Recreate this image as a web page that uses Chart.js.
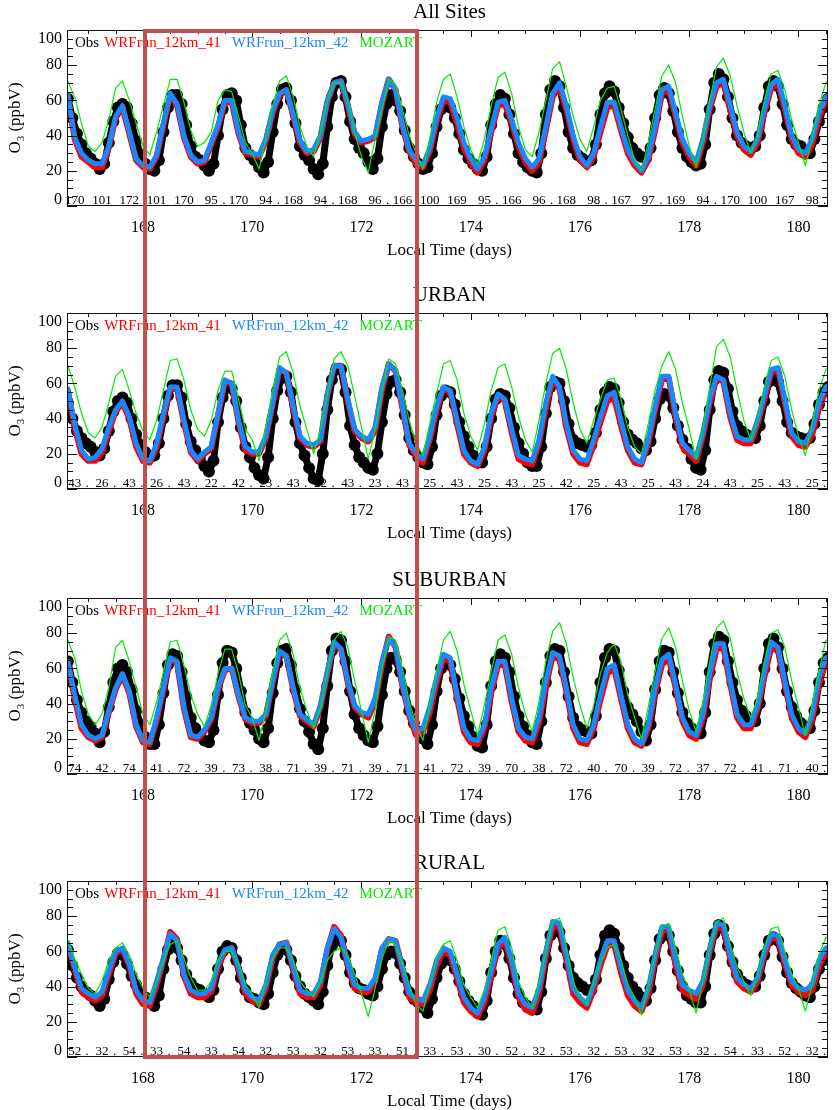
<!DOCTYPE html>
<html><head><meta charset="utf-8">
<script src="https://cdn.jsdelivr.net/npm/chart.js@4.4.1/dist/chart.umd.min.js"></script>
<style>
html,body{margin:0;padding:0;background:#fff;width:836px;height:1110px;overflow:hidden;position:relative;}
canvas.pan{position:absolute;left:0;}
#box{position:absolute;left:143px;top:29px;width:276px;height:1030px;border:4px solid #C0504D;box-sizing:border-box;pointer-events:none;z-index:5;}
</style></head><body>
<canvas id="c0" class="pan" width="836" height="283" style="top:0px"></canvas>
<canvas id="c1" class="pan" width="836" height="283" style="top:283px"></canvas>
<canvas id="c2" class="pan" width="836" height="283" style="top:568px"></canvas>
<canvas id="c3" class="pan" width="836" height="259" style="top:851px"></canvas>
<div id="box"></div>
<script>
// ---------------- labels / ticks ----------------
const panelTitles = ['All Sites', 'URBAN', 'SUBURBAN', 'RURAL'];
const legendLabels = ['Obs', 'WRFrun_12km_41', 'WRFrun_12km_42', 'MOZART'];
const xTickValues = [168, 170, 172, 174, 176, 178, 180];
const yTickValues = [0, 20, 40, 60, 80, 100];
const xAxisTitle = 'Local Time (days)';
// time grids (days): models every 3 h, obs every 2 h, counts every 12 h
const modelStart = 166.625, modelStep = 0.125;
const obsStart = 166.625, obsStep = 1 / 12;
const countStart = 166.75, countStep = 0.5;

// ---------------- All Sites ----------------
const allObs = [61,50,41,35,30,
 27,24,21,24,36,48,56,58,56,47,37,29,
 24,21,20,26,42,56,63,63,58,46,34,28,
 26,23,20,24,40,55,63,64,60,46,33,29,
 26,22,19,25,42,58,66,67,60,47,34,29,
 26,21,18,24,45,62,70,71,62,48,38,33,
 30,25,21,27,45,58,63,60,54,43,33,28,
 24,21,22,30,45,55,58,56,50,41,32,27,
 24,21,20,28,46,58,63,61,52,41,30,25,
 22,20,19,30,52,66,71,68,56,42,33,29,
 27,25,26,35,52,64,68,65,56,47,39,33,
 30,28,27,33,50,63,67,64,54,42,33,28,
 25,23,24,35,55,70,75,72,62,50,40,36,
 34,33,34,40,56,68,71,68,58,46,38,35,
 34,30,30,38,48,56,61];
const allWrf41 = [62,38,28,
 25,22,22,33,50,56,41,26,
 22,21,28,46,63,57,39,28,
 24,25,35,45,59,59,41,30,
 29,28,37,53,63,66,51,36,
 30,31,39,59,70,71,57,41,
 36,37,39,58,72,66,45,31,
 24,22,31,48,60,59,47,33,
 25,19,26,42,57,58,47,34,
 25,20,25,43,62,68,55,38,
 26,22,28,42,56,57,43,30,
 23,19,26,43,64,66,51,36,
 28,23,36,55,68,70,55,40,
 32,29,36,53,67,70,55,38,
 30,28,35,50,60,62];
const allWrf42 = [63,39,30,
 26,24,24,34,51,57,42,27,
 23,22,29,47,64,58,40,29,
 25,26,36,46,60,60,42,31,
 30,29,38,54,64,66,52,37,
 31,32,40,60,70,71,58,42,
 37,38,40,59,72,66,46,32,
 26,23,33,50,62,61,50,36,
 27,21,28,44,59,60,49,36,
 27,22,27,45,64,70,57,40,
 28,23,30,45,59,59,45,32,
 25,20,28,45,66,68,53,38,
 30,25,38,57,70,72,57,42,
 34,31,38,55,69,72,57,40,
 32,30,38,53,62,63];
const allMozart = [71,62,47,
 34,31,36,49,67,71,60,47,
 34,29,42,57,72,72,59,43,
 34,36,42,60,66,65,51,36,
 30,21,38,57,71,74,62,45,
 34,28,42,60,70,70,60,42,
 28,19,38,55,72,69,55,40,
 30,21,38,59,72,75,62,45,
 32,24,38,57,73,76,64,45,
 32,28,42,60,78,82,68,51,
 38,31,45,60,67,68,55,40,
 26,20,36,55,74,80,70,51,
 34,22,38,60,79,84,74,57,
 42,30,40,60,75,77,66,49,
 36,23,38,57,70,72];
const allCounts = [170,101,172,101,170,95,170,94,168,94,168,96,166,100,169,95,166,96,168,98,167,97,169,94,170,100,167,98];

// ---------------- URBAN ----------------
const urbanObs = [49,40,33,29,26,
 24,21,19,23,33,44,50,52,49,40,31,25,
 21,18,19,26,40,53,59,59,52,37,27,22,
 17,13,10,16,38,52,58,57,50,35,24,18,
 12,8,6,18,40,56,63,64,55,38,26,19,
 12,6,5,20,45,62,68,68,55,36,25,18,
 15,12,11,20,38,54,61,62,55,42,29,22,
 18,15,14,24,42,53,56,55,48,38,30,24,
 19,16,15,24,40,51,54,53,46,35,26,20,
 15,13,13,24,43,58,61,60,50,37,28,26,
 25,24,25,32,45,55,58,57,49,38,31,28,
 26,23,22,27,40,51,54,53,46,36,28,23,
 17,12,11,22,45,62,67,66,57,44,36,33,
 31,29,29,36,50,61,64,61,50,38,32,30,
 29,28,29,37,48,55,58];
const urbanWrf41 = [56,35,20,
 16,16,21,33,44,49,40,24,
 16,15,24,41,57,57,38,21,
 16,20,23,42,61,60,38,22,
 20,20,29,48,68,66,46,29,
 25,24,27,53,70,70,50,33,
 29,27,33,56,71,67,46,25,
 19,15,28,45,57,55,37,20,
 15,13,22,41,53,50,32,17,
 15,14,26,46,62,57,35,20,
 15,14,25,38,50,52,36,22,
 15,14,26,45,62,63,41,24,
 20,16,30,49,63,61,41,28,
 26,26,37,51,66,68,49,30,
 25,24,31,46,56,58];
const urbanWrf42 = [57,37,22,
 17,18,23,35,45,50,41,26,
 17,16,26,43,58,58,39,22,
 17,21,24,43,62,60,39,24,
 21,21,30,49,69,66,47,30,
 26,25,28,54,70,70,51,34,
 30,28,35,58,71,67,47,26,
 20,17,30,47,58,56,39,22,
 16,14,24,43,54,51,34,19,
 17,16,28,49,64,58,37,22,
 17,16,28,41,53,55,39,24,
 17,15,28,47,64,64,43,26,
 22,18,32,51,64,62,43,30,
 28,28,39,53,68,69,51,32,
 27,26,34,49,58,60];
const urbanMozart = [70,58,43,
 32,29,35,49,64,68,56,43,
 33,28,39,56,73,74,62,45,
 34,30,39,56,67,67,51,34,
 28,16,35,56,75,78,66,47,
 34,20,34,54,74,78,70,53,
 35,17,34,56,74,71,56,39,
 26,19,37,54,71,73,62,43,
 30,22,37,56,69,71,58,41,
 28,21,39,60,77,80,68,49,
 34,26,39,51,62,63,51,35,
 24,20,37,56,70,78,68,49,
 34,17,34,58,81,85,75,56,
 39,28,39,58,73,75,64,45,
 30,19,37,56,68,70];
const urbanCounts = [43,26,43,26,43,22,42,23,43,22,43,23,43,25,43,25,43,25,42,25,43,25,43,24,43,25,43,25];

// ---------------- SUBURBAN ----------------
const suburbanObs = [64,52,42,35,30,
 27,23,18,24,38,52,60,62,58,48,36,28,
 21,17,17,28,46,62,68,67,58,44,32,26,
 22,19,18,25,45,63,70,69,60,47,35,29,
 25,20,18,26,46,63,70,71,62,48,37,30,
 24,17,14,26,50,70,77,76,64,47,34,26,
 22,19,18,27,45,60,66,65,58,47,36,29,
 24,20,17,28,47,60,64,62,54,43,33,27,
 21,16,15,28,50,64,68,66,58,44,33,27,
 22,18,17,30,52,67,71,70,58,44,32,27,
 25,24,23,33,52,66,71,70,59,47,38,34,
 30,24,19,28,48,64,70,69,58,46,35,29,
 26,23,23,35,58,74,78,76,64,52,42,36,
 33,30,30,40,60,74,77,72,60,47,38,33,
 29,27,26,36,52,63,66];
const suburbanWrf41 = [63,43,26,
 21,19,21,35,48,56,46,27,
 18,17,30,48,65,63,37,21,
 20,24,31,48,59,60,44,31,
 29,29,33,52,69,67,48,33,
 30,27,38,57,74,71,52,38,
 34,32,41,62,78,72,50,33,
 22,24,35,52,66,64,43,24,
 18,17,26,46,62,62,41,24,
 19,18,29,50,67,65,47,26,
 18,17,26,42,57,60,43,26,
 18,16,26,46,62,66,49,30,
 22,20,32,54,71,72,51,32,
 26,26,37,55,72,70,51,32,
 24,21,31,51,63,65];
const suburbanWrf42 = [64,45,28,
 22,20,22,36,49,57,47,28,
 19,18,32,49,66,64,38,22,
 21,25,32,49,60,60,45,32,
 30,30,34,53,70,67,49,34,
 31,28,39,58,75,71,53,39,
 35,34,43,64,77,72,51,34,
 24,26,38,55,68,66,45,26,
 20,19,28,49,64,64,43,26,
 21,20,32,53,69,67,49,28,
 20,19,28,45,60,62,45,28,
 20,17,28,49,65,68,51,32,
 24,22,34,57,74,74,53,34,
 28,28,39,58,75,72,53,34,
 26,23,34,55,66,67];
const suburbanMozart = [76,66,47,
 34,28,34,49,72,76,64,49,
 34,28,41,58,75,76,62,45,
 34,27,39,57,71,71,57,39,
 32,19,36,58,76,80,68,49,
 36,26,38,58,76,81,72,53,
 36,18,36,60,78,76,60,41,
 28,19,39,58,76,81,70,51,
 36,22,39,58,76,79,68,49,
 34,24,41,64,81,86,74,55,
 39,26,39,57,69,74,64,45,
 32,20,38,58,77,83,72,53,
 36,24,41,64,83,87,77,58,
 43,32,43,64,80,82,72,53,
 38,22,39,58,76,76];
const suburbanCounts = [74,42,74,41,72,39,73,38,71,39,71,39,71,41,72,39,70,38,72,40,70,39,72,37,72,41,71,40];

// ---------------- RURAL ----------------
const ruralObs = [61,52,45,40,37,
 35,32,29,33,44,54,59,58,53,46,41,37,
 34,31,29,35,50,61,64,62,55,47,42,39,
 38,36,34,38,50,60,63,62,55,45,38,34,
 33,31,30,36,48,58,62,61,55,46,40,36,
 34,32,30,37,52,63,67,66,58,48,42,39,
 38,36,35,40,50,58,60,59,53,45,37,33,
 31,28,25,33,45,53,56,55,50,43,36,32,
 29,25,24,32,48,60,66,64,56,45,36,31,
 29,27,27,37,56,69,73,71,62,52,45,42,
 40,38,38,44,58,69,72,70,62,52,45,40,
 37,34,32,39,55,67,71,69,60,49,40,35,
 33,31,31,40,58,70,75,73,63,54,47,43,
 41,40,40,46,58,66,68,66,57,48,42,39,
 37,35,34,40,50,55,57];
const ruralWrf41 = [64,50,37,
 34,32,35,47,59,61,52,36,
 30,29,41,55,71,67,46,36,
 34,34,37,51,60,62,50,36,
 32,30,39,56,64,65,50,36,
 34,34,41,61,74,69,52,39,
 37,37,43,61,67,66,50,34,
 31,30,38,52,60,58,45,31,
 26,23,31,46,62,66,53,34,
 27,25,36,57,74,74,56,36,
 31,28,38,52,63,64,48,35,
 29,26,36,55,72,72,52,38,
 35,33,41,60,74,73,56,43,
 39,37,43,58,68,67,53,41,
 37,35,38,52,59,61];
const ruralWrf42 = [65,51,39,
 36,34,37,49,60,62,53,38,
 32,31,43,56,70,66,47,38,
 36,36,39,53,61,62,51,38,
 34,32,41,58,64,65,51,38,
 36,36,43,62,73,68,53,41,
 39,39,45,62,67,66,51,36,
 33,32,41,55,62,60,47,34,
 28,25,34,49,64,68,55,36,
 30,28,39,60,77,76,58,39,
 34,30,41,55,66,66,51,38,
 32,28,39,58,74,74,55,41,
 38,36,43,62,76,75,58,45,
 41,39,45,60,70,69,55,43,
 39,38,41,55,62,63];
const ruralMozart = [66,56,47,
 39,36,43,55,62,65,58,47,
 39,34,43,55,64,66,56,45,
 38,38,43,55,60,60,53,41,
 36,28,43,56,62,62,55,43,
 38,34,43,55,60,62,58,47,
 36,23,39,56,66,64,53,41,
 30,26,41,56,64,66,55,41,
 34,28,38,55,72,74,62,43,
 34,28,41,60,77,79,62,43,
 34,30,43,53,62,64,55,41,
 34,24,41,58,74,76,62,47,
 38,25,43,62,77,79,64,51,
 43,35,47,62,73,74,60,47,
 39,26,41,58,68,69];
const ruralCounts = [52,32,54,33,54,33,54,32,53,32,53,33,51,33,53,30,52,32,53,32,53,32,53,32,54,33,52,32];

// ---------------- styling / layout ----------------
const COL = { obs: '#000000', w41: 'rgb(255,0,0)', w42: 'rgb(25,135,255)', moz: 'rgb(0,235,0)' };
const SERIF = '"Liberation Serif", "DejaVu Serif", serif';
const X_MIN = 166.61, X_MAX = 180.54;

const panels = [
  { title: panelTitles[0], obs: allObs, w41: allWrf41, w42: allWrf42, moz: allMozart, counts: allCounts, canvas: 'c0' },
  { title: panelTitles[1], obs: urbanObs, w41: urbanWrf41, w42: urbanWrf42, moz: urbanMozart, counts: urbanCounts, canvas: 'c1' },
  { title: panelTitles[2], obs: suburbanObs, w41: suburbanWrf41, w42: suburbanWrf42, moz: suburbanMozart, counts: suburbanCounts, canvas: 'c2' },
  { title: panelTitles[3], obs: ruralObs, w41: ruralWrf41, w42: ruralWrf42, moz: ruralMozart, counts: ruralCounts, canvas: 'c3' }
];

function toPoints(start, step, arr) { return arr.map((v, i) => ({ x: start + i * step, y: v })); }

function decorPlugin(p) {
  return {
    id: 'decor',
    afterDatasetsDraw(chart) {
      const { ctx, chartArea: a, scales } = chart;
      const xs = scales.x, ys = scales.y;
      ctx.save();
      // frame
      ctx.strokeStyle = '#111';
      ctx.lineWidth = 1;
      ctx.strokeRect(a.left + 0.5, a.top + 0.5, a.right - a.left - 1, a.bottom - a.top - 1);
      // y ticks (major 20, minor 5), inward on both sides
      ctx.beginPath();
      for (let v = 0; v <= 100; v += 5) {
        const py = Math.round(ys.getPixelForValue(v)) + 0.5;
        const len = (v % 20 === 0) ? 10 : 6;
        ctx.moveTo(a.left, py); ctx.lineTo(a.left + len, py);
        ctx.moveTo(a.right, py); ctx.lineTo(a.right - len, py);
      }
      // x ticks along the top (major 2 d, minor 0.5 d)
      for (let d = 167; d <= 180.5; d += 0.5) {
        const px = Math.round(xs.getPixelForValue(d)) + 0.5;
        const len = xTickValues.includes(d) ? 7 : 4;
        ctx.moveTo(px, a.top); ctx.lineTo(px, a.top + len);
      }
      ctx.stroke();
      ctx.fillStyle = '#000';
      // y tick labels
      ctx.font = '16px ' + SERIF;
      ctx.textAlign = 'right'; ctx.textBaseline = 'middle';
      yTickValues.forEach(v => {
        let py = ys.getPixelForValue(v);
        py = Math.min(Math.max(py, a.top + 9), a.bottom - 6);
        ctx.fillText(String(v), a.left - 5, py);
      });
      // x tick labels
      ctx.textAlign = 'center';
      xTickValues.forEach(v => ctx.fillText(String(v), xs.getPixelForValue(v), a.bottom + 22));
      // x axis title
      ctx.font = '17px ' + SERIF;
      ctx.fillText(xAxisTitle, (a.left + a.right) / 2 + 2, a.bottom + 45);
      // panel title
      ctx.font = '21px ' + SERIF;
      ctx.fillText(p.title, (a.left + a.right) / 2 + 2, a.top - 18);
      // y axis title O3 (ppbV), rotated
      ctx.save();
      ctx.translate(16, (a.top + a.bottom) / 2);
      ctx.rotate(-Math.PI / 2);
      ctx.textAlign = 'left'; ctx.textBaseline = 'middle';
      const fMain = '17px ' + SERIF, fSub = '11px ' + SERIF;
      ctx.font = fMain; const wO = ctx.measureText('O').width; const wRest = ctx.measureText(' (ppbV)').width;
      ctx.font = fSub; const w3 = ctx.measureText('3').width;
      let tx = -(wO + w3 + wRest) / 2;
      ctx.font = fMain; ctx.fillText('O', tx, 0); tx += wO;
      ctx.font = fSub; ctx.fillText('3', tx, 5); tx += w3;
      ctx.font = fMain; ctx.fillText(' (ppbV)', tx, 0);
      ctx.restore();
      // legend inside plot
      ctx.font = '15px ' + SERIF;
      ctx.textAlign = 'left'; ctx.textBaseline = 'middle';
      const legCols = [COL.obs, COL.w41, COL.w42, COL.moz];
      let lx = a.left + 8;
      legendLabels.forEach((t, i) => {
        ctx.fillStyle = legCols[i];
        ctx.fillText(t, lx, a.top + 13);
        lx += ctx.measureText(t).width + (i === 0 ? 5 : 11);
      });
      // site counts along the bottom
      ctx.fillStyle = '#000';
      ctx.font = '13px ' + SERIF;
      ctx.textAlign = 'center'; ctx.textBaseline = 'alphabetic';
      p.counts.forEach((n, i) => {
        const d = countStart + i * countStep;
        const px = xs.getPixelForValue(d);
        ctx.fillText(String(n), px, a.bottom - 2);
        if (n < 100) ctx.fillText('.', xs.getPixelForValue(d + 0.23), a.bottom - 2);
      });
      ctx.restore();
    }
  };
}

panels.forEach(p => {
  const cv = document.getElementById(p.canvas);
  const H = cv.height;
  new Chart(cv.getContext('2d'), {
    type: 'line',
    data: {
      datasets: [
        { label: legendLabels[3], data: toPoints(modelStart, modelStep, p.moz), borderColor: COL.moz, borderWidth: 1.2, pointRadius: 0, order: 0, clip: 0 },
        { label: legendLabels[2], data: toPoints(modelStart, modelStep, p.w42), borderColor: COL.w42, borderWidth: 5, pointRadius: 0, order: 1, clip: 0 },
        { label: legendLabels[1], data: toPoints(modelStart, modelStep, p.w41), borderColor: COL.w41, borderWidth: 6, pointRadius: 0, order: 2, clip: 0 },
        { label: legendLabels[0], data: toPoints(obsStart, obsStep, p.obs), showLine: true, borderWidth: 7, borderColor: COL.obs, pointRadius: 6, pointBackgroundColor: COL.obs, pointBorderWidth: 0, order: 3, clip: 0 }
      ]
    },
    options: {
      responsive: false, animation: false, events: [],
      layout: { padding: { left: 67, right: 8, top: 30, bottom: H - 206 } },
      elements: { line: { tension: 0, borderJoinStyle: 'round', borderCapStyle: 'round' } },
      scales: {
        x: { type: 'linear', min: X_MIN, max: X_MAX, display: false },
        y: { type: 'linear', min: 0, max: 100, display: false }
      },
      plugins: { legend: { display: false }, tooltip: { enabled: false } }
    },
    plugins: [decorPlugin(p)]
  });
});
</script>
</body></html>
